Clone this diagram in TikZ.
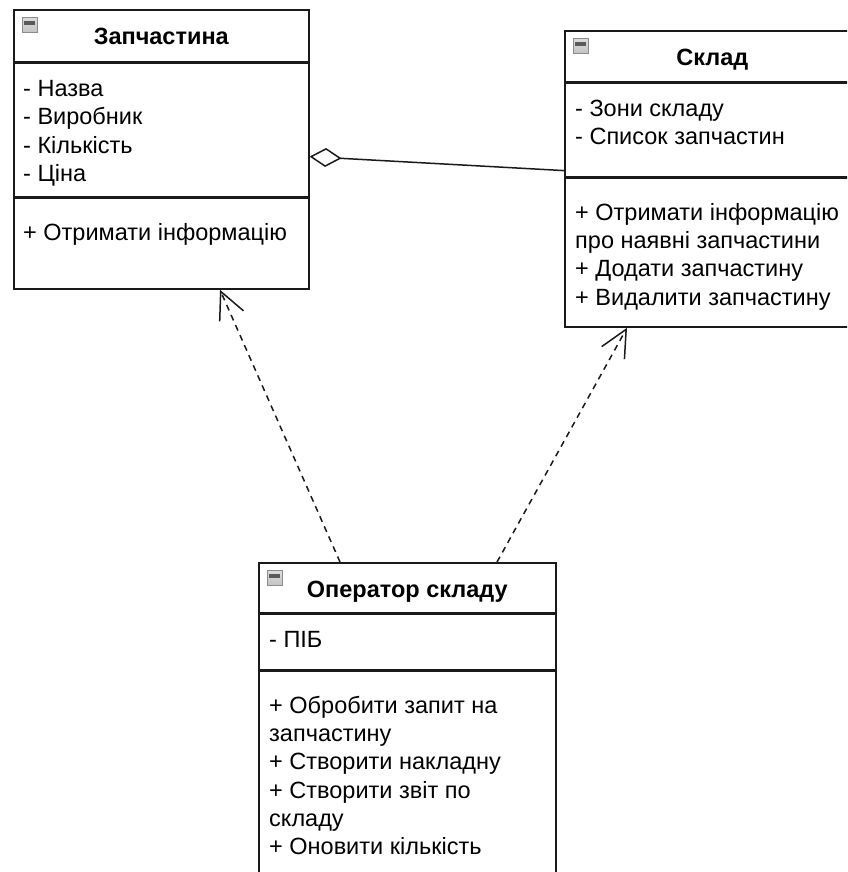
\documentclass[tikz,border=0pt]{standalone}
\usepackage{fontspec}
\setmainfont{Liberation Sans}
\usetikzlibrary{arrows.meta,calc}

\definecolor{edge}{HTML}{1A1A1A}
\definecolor{iconfill}{HTML}{C4C4C4}
\definecolor{iconbar}{HTML}{5A5A5A}

% a multi-line node's "base" is the baseline of its last line,
% so the text nodes are placed by that last baseline
\tikzset{
  cell/.style={draw=edge, line width=1.6pt, fill=white, anchor=north west,
    inner sep=0pt, minimum width=#1},
  cell/.default=295pt,
  title/.style={font=\bfseries\fontsize{23.5}{28.3}\selectfont, anchor=base, inner sep=0pt},
  body/.style={font=\fontsize{23.5}{28.3}\selectfont, align=left, anchor=base west, inner sep=0pt},
  icon/.style={anchor=north west, minimum size=15pt, inner sep=0pt,
    draw=black!45, line width=0.6pt, top color=iconfill!60, bottom color=iconfill,
    path picture={\fill[iconbar] ([shift={(2pt,-4pt)}]path picture bounding box.north west)
      rectangle ([shift={(-2pt,-7.5pt)}]path picture bounding box.north east);}},
  aggr/.style={draw=edge, line width=1.5pt, {Diamond[open,length=32pt,width=19pt]}-},
  dep/.style={draw=edge, line width=1.5pt, dash pattern=on 6pt off 5pt,
    -{Straight Barb[length=27pt,width=26pt]}},
}

\begin{document}
\begin{tikzpicture}[x=1pt,y=-1pt]
  \useasboundingbox (0,0) rectangle (847,872);
  \fill[white] (0,0) rectangle (847,872);
  \clip (0,0) rectangle (847,872);

  % class: Запчастина
  \node[cell, minimum height=52pt]  (Ah) at (13,9) {};
  \node[cell, minimum height=133pt] (Aa) at (Ah.south west) {};
  \node[cell, minimum height=91pt]  (Am) at (Aa.south west) {};
  \node[icon] (Ai) at ([shift={(9pt,-8pt)}]Ah.north west) {};
  \node[title] (At) at ([yshift=-35.3pt]Ah.north) {Запчастина};
  \node[body] (Aat) at ([shift={(10pt,-118.9pt)}]Aa.north west)
    {- Назва\\- Виробник\\- Кількість\\- Ціна};
  \node[body] (Amt) at ([shift={(10pt,-43pt)}]Am.north west)
    {+ Отримати інформацію};

  % class: Склад
  \node[cell, minimum height=51pt]  (Bh) at (564,30) {};
  \node[cell, minimum height=93pt]  (Ba) at (Bh.south west) {};
  \node[cell, minimum height=149pt] (Bm) at (Ba.south west) {};
  \node[icon] (Bi) at ([shift={(9pt,-8pt)}]Bh.north west) {};
  \node[title] (Bt) at ([yshift=-35.3pt]Bh.north) {Склад};
  \node[body] (Bat) at ([shift={(11pt,-62.3pt)}]Ba.north west)
    {- Зони складу\\- Список запчастин};
  \node[body] (Bmt) at ([shift={(11pt,-127.9pt)}]Bm.north west)
    {+ Отримати інформацію\\про наявні запчастини\\+ Додати запчастину\\+ Видалити запчастину};

  % class: Оператор складу
  \node[cell=297pt, minimum height=50pt]  (Ch) at (258,562) {};
  \node[cell=297pt, minimum height=55pt]  (Ca) at (Ch.south west) {};
  \node[cell=297pt, minimum height=230pt] (Cm) at (Ca.south west) {};
  \node[icon] (Ci) at ([shift={(9pt,-8pt)}]Ch.north west) {};
  \node[title] (Ct) at ([yshift=-35.3pt]Ch.north) {Оператор складу};
  \node[body] (Cat) at ([shift={(11pt,-34pt)}]Ca.north west) {- ПІБ};
  \node[body] (Cmt) at ([shift={(11pt,-184.5pt)}]Cm.north west)
    {+ Обробити запит на\\запчастину\\+ Створити накладну\\+ Створити звіт по\\складу\\+ Оновити кількість};

  % relations
  \draw[aggr] ([yshift=-94pt]Aa.north east) -- ([yshift=-88pt]Ba.north west);
  \draw[dep] ([xshift=82pt]Ch.north west) -- ([xshift=207pt]Am.south west);
  \draw[dep] ([xshift=239pt]Ch.north west) -- ([xshift=63pt]Bm.south west);
\end{tikzpicture}
\end{document}
